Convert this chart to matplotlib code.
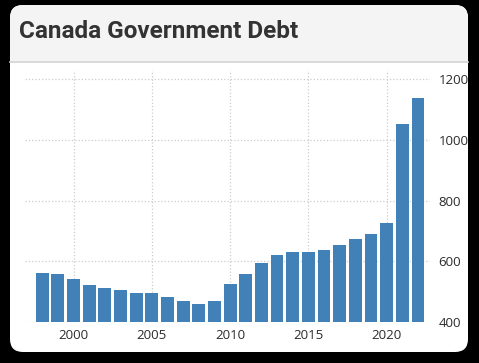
import matplotlib
matplotlib.use('Agg')
import matplotlib.pyplot as plt
from matplotlib.patches import FancyBboxPatch, Rectangle
from matplotlib.lines import Line2D

years = list(range(1998, 2023))
debt = [562, 557, 542, 521, 513, 506, 497, 497, 481, 470, 458, 470, 525,
        557, 594, 621, 629, 629, 637, 653, 673, 689, 725, 1051, 1137]
xticks = [2000, 2005, 2010, 2015, 2020]
yticks = [400, 600, 800, 1000, 1200]
title = 'Canada Government Debt'

W, H = 479, 363
fig = plt.figure(figsize=(W / 100, H / 100), dpi=100, facecolor='black')

def px(x, y):
    # pixel (from top-left) -> inches for dpi_scale_trans
    return x / 100, (H - y) / 100

tr = fig.dpi_scale_trans
# white card
x0, y0 = px(10, 352)
card = FancyBboxPatch((x0, y0), 4.58, 3.47, boxstyle='round,pad=0,rounding_size=0.13',
                      transform=tr, facecolor='white', edgecolor='none', zorder=0)
fig.patches.append(card)
# grey header
hx, hy = px(10, 62)
head = FancyBboxPatch((hx, hy), 4.58, 0.57, boxstyle='round,pad=0,rounding_size=0.13',
                      transform=tr, facecolor='#f4f4f4', edgecolor='none', zorder=1)
fig.patches.append(head)
fig.patches.append(Rectangle((hx, hy), 4.58, 0.2, transform=tr, facecolor='#f4f4f4',
                             edgecolor='none', zorder=1))
fig.lines.append(Line2D([hx, hx + 4.58], [hy, hy], transform=tr, color='#d4d4d4', lw=1.2, zorder=2))

fig.text(19 / W, (H - 37.7) / H, title, fontfamily='Roboto', fontweight='bold',
         fontsize=17.5, color='#333333', va='baseline', ha='left', zorder=3)

ax = fig.add_axes([25 / W, (H - 322) / H, (430 - 25) / W, (322 - 70) / H])
ax.set_zorder(5)
ax.set_facecolor('none')
ax.bar(years, debt, width=0.82, color='#4281b8', zorder=2)
ax.set_xlim(1996.9, 2022.77)
ax.set_ylim(400, 1230)
ax.set_xticks(xticks)
ax.set_yticks(yticks)
ax.yaxis.tick_right()
ax.tick_params(axis='both', length=0, labelsize=9.5, labelcolor='#2b2b2b')
ax.tick_params(axis='y', pad=6)
ax.tick_params(axis='x', pad=5)
for lbl in ax.get_xticklabels() + ax.get_yticklabels():
    lbl.set_fontfamily('Open Sans')
ax.grid(True, linestyle=':', color='#cccccc', linewidth=0.9, zorder=0)
for s in ax.spines.values():
    s.set_visible(False)

fig.savefig('out.png', dpi=100, facecolor='black')
